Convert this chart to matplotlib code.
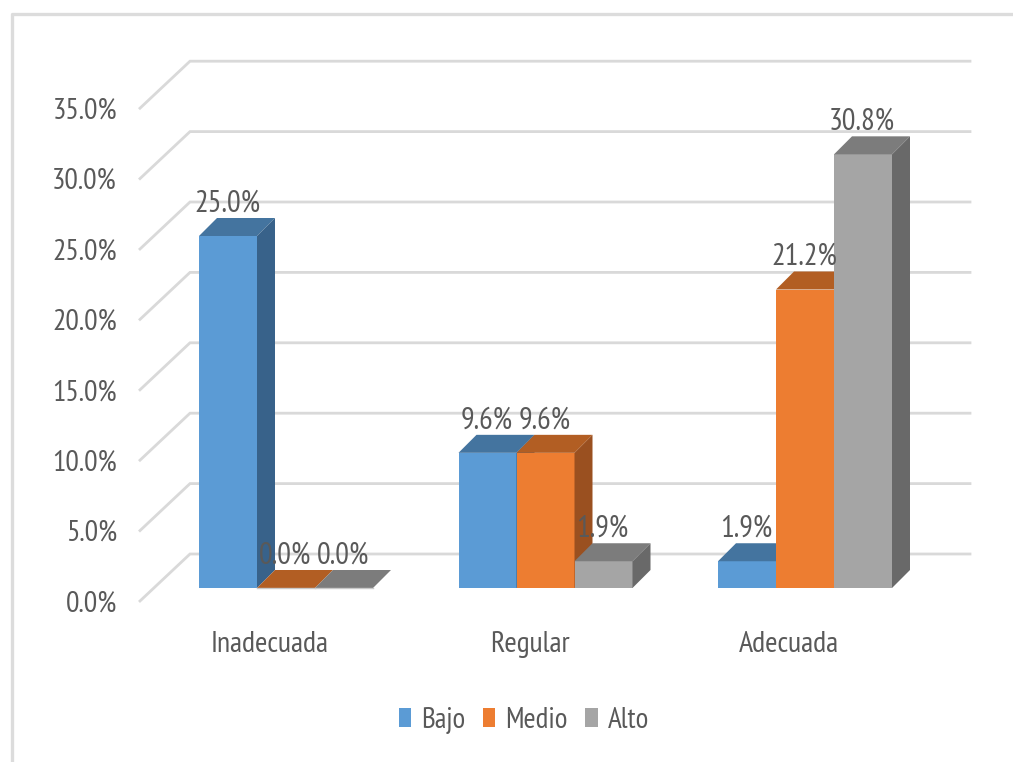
import matplotlib
matplotlib.use("Agg")
import matplotlib.pyplot as plt
from matplotlib.patches import Patch

categories = ["Inadecuada", "Regular", "Adecuada"]
series = ["Bajo", "Medio", "Alto"]
bajo = [25.0, 9.6, 1.9]
medio = [0.0, 9.6, 21.2]
alto = [0.0, 1.9, 30.8]
y_ticks = [0, 5, 10, 15, 20, 25, 30, 35]

front = ["#5B9BD5", "#ED7D31", "#A5A5A5"]
top = ["#44749F", "#B25E23", "#7C7C7C"]
side = ["#38628A", "#9A5020", "#696969"]
TEXT = "#595959"
GRID = "#D9D9D9"

W, H = 1013, 762
PX_X = 259.5  # px per category
PX_Y = 14.08  # px per percent
X0, Y0 = 286.0, 588.0  # px of first category centre / zero on bar front


def px_x(p):
    return (p - X0) / PX_X


def px_y(p):
    return (Y0 - p) / PX_Y


plt.rcParams["font.family"] = ["PT Sans Narrow", "Carlito", "Liberation Sans", "DejaVu Sans"]
fig = plt.figure(figsize=(W / 100, H / 100), dpi=100)
ax = fig.add_axes([0, 0, 1, 1])
ax.set_xlim(px_x(0), px_x(W))
ax.set_ylim(px_y(H), px_y(0))
ax.axis("off")

# chart frame, only top and left are visible in the crop
ax.plot([px_x(12), px_x(12), px_x(W)], [px_y(H), px_y(14), px_y(14)], color="#DCDCDC", lw=2.4, zorder=1)

# walls and floor
wall_dx = 50 / PX_X
wall_dy = 47 / PX_Y
front_off = (Y0 - 601) / PX_Y
left = px_x(140)
right = px_x(970)
for v in y_ticks:
    yf = v + front_off
    ax.plot([left, left + wall_dx, right], [yf, yf + wall_dy, yf + wall_dy], color=GRID, lw=2.0,
            solid_joinstyle="miter", zorder=1)
    ax.text(px_x(117), yf - 3 / PX_Y, f"{v:.1f}%", ha="right", va="center", color=TEXT, fontsize=21.5, zorder=5)

# 3d bars, left to right so the next front hides the previous side
bar_w = 58 / PX_X
dx = 18 / PX_X
dy = 18 / PX_Y
values = [bajo, medio, alto]
for c in range(len(categories)):
    for s in range(len(series)):
        v = values[s][c]
        x0 = c + (s - 1.5) * bar_w
        x1 = x0 + bar_w
        z = 3 + c * 0.1 + s * 0.01
        ax.bar(x0, v, width=bar_w, align="edge", color=front[s], zorder=z)
        ax.fill([x0, x1, x1 + dx, x0 + dx], [v, v, v + dy, v + dy], color=top[s], lw=0, zorder=z)
        ax.fill([x1, x1 + dx, x1 + dx, x1], [0, dy, v + dy, v], color=side[s], lw=0, zorder=z)
        if v == 0:
            ax.plot([x0, x1], [0, 0], color="#C9C9C9", lw=1, zorder=z)
        ax.text((x0 + x1) / 2 - 1 / PX_X, v + 32.5 / PX_Y, f"{v:.1f}%", ha="center", va="center",
                color=TEXT, fontsize=22, zorder=6)

for c, name in enumerate(categories):
    ax.text(c - 16 / PX_X, px_y(644), name, ha="center", va="center", color=TEXT, fontsize=21.5, zorder=5)

handles = [Patch(facecolor=front[i], label=series[i]) for i in range(3)]
ax.legend(handles=handles, loc="center", bbox_to_anchor=(524 / W, 1 - 720.5 / H), ncol=3, frameon=False,
          fontsize=21, labelcolor=TEXT, handlelength=0.42, handleheight=0.6, handletextpad=0.35,
          columnspacing=0.6, borderpad=0)

fig.savefig("out.png", dpi=100)
